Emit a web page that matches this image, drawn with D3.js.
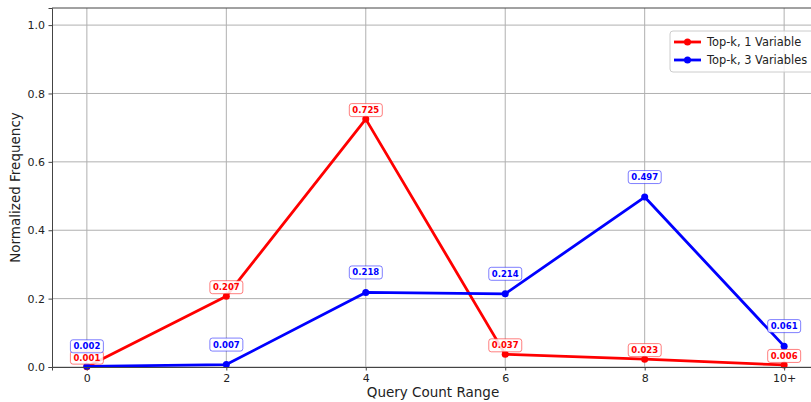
<!DOCTYPE html>
<html><head><meta charset="utf-8">
<script src="https://cdn.jsdelivr.net/npm/d3@7"></script>
<style>body{margin:0;background:#fff}svg{display:block;font-family:"DejaVu Sans",sans-serif}</style>
</head><body><div id="c"></div>
<script>
const categories = ["0","2","4","6","8","10+"];
const series1 = [0.001,0.207,0.725,0.037,0.023,0.006];
const series3 = [0.002,0.007,0.218,0.214,0.497,0.061];
const seriesNames = ["Top-k, 1 Variable","Top-k, 3 Variables"];
const yTicks = [0,0.2,0.4,0.6,0.8,1.0];

const W=811,H=402;
const m={l:52};
const pw=767; // extends past the window as in the reference crop
const svg=d3.select("#c").append("svg").attr("width",W).attr("height",H);
const x=d3.scaleLinear().domain([-0.25,5.25]).range([m.l,m.l+pw]);
const y=d3.scaleLinear().domain([0,1.05]).range([367,8]);
const g=svg.append("g");
// grid
g.selectAll(".gx").data(categories).enter().append("line")
 .attr("x1",(d,i)=>x(i)).attr("x2",(d,i)=>x(i)).attr("y1",y(1.05)).attr("y2",y(0))
 .attr("stroke","#b0b0b0").attr("stroke-width",1);
g.selectAll(".gy").data(yTicks).enter().append("line")
 .attr("x1",x(-0.25)).attr("x2",x(5.25)).attr("y1",d=>y(d)).attr("y2",d=>y(d))
 .attr("stroke","#b0b0b0").attr("stroke-width",1);
// axes
const xa=d3.axisBottom(x).tickValues(d3.range(categories.length)).tickFormat(i=>categories[i]).tickSize(3.5).tickPadding(3.5);
const ya=d3.axisLeft(y).tickValues(yTicks).tickFormat(d3.format(".1f")).tickSize(3.5).tickPadding(3.5);
const gx=svg.append("g").attr("transform",`translate(0,${y(0)})`).call(xa);
const gy=svg.append("g").attr("transform",`translate(${m.l},0)`).call(ya);
[gx,gy].forEach(a=>{a.selectAll("text").attr("font-size",11).attr("fill","#222").attr("font-family","DejaVu Sans");a.selectAll("line").attr("stroke","#444");a.select(".domain").attr("stroke","#444");});
svg.append("line").attr("x1",x(-0.25)).attr("x2",x(5.25)).attr("y1",y(1.05)).attr("y2",y(1.05)).attr("stroke","#444");
svg.append("text").attr("x",433).attr("y",397).attr("text-anchor","middle").attr("font-size",13.5).attr("fill","#222").text("Query Count Range");
svg.append("text").attr("transform",`translate(20,${(y(0)+y(1.05))/2}) rotate(-90)`).attr("text-anchor","middle").attr("font-size",13.5).attr("fill","#222").text("Normalized Frequency");

const data=[{v:series1,c:"#ff0000",off:9,name:seriesNames[0]},{v:series3,c:"#0000ff",off:20,name:seriesNames[1]}];
const line=d3.line().x((d,i)=>x(i)).y(d=>y(d));
data.forEach(s=>{
 g.append("path").datum(s.v).attr("d",line).attr("fill","none").attr("stroke",s.c).attr("stroke-width",2.8).attr("stroke-linejoin","round");
 g.selectAll(null).data(s.v).enter().append("circle").attr("cx",(d,i)=>x(i)).attr("cy",d=>y(d)).attr("r",3.5).attr("fill",s.c);
});
data.forEach(s=>{
 s.v.forEach((d,i)=>{
  const lg=g.append("g").attr("transform",`translate(${x(i)},${y(d)-s.off})`);
  const t=lg.append("text").attr("text-anchor","middle").attr("dy","0.35em").attr("font-size",8.5).attr("font-weight","bold").attr("fill",s.c).text(d3.format(".3f")(d));
  const bb=t.node().getBBox();
  lg.insert("rect","text").attr("x",bb.x-3).attr("y",bb.y-1.5).attr("width",bb.width+6).attr("height",bb.height+3).attr("rx",2.5)
   .attr("fill","#fff").attr("fill-opacity",0.85).attr("stroke",s.c).attr("stroke-opacity",0.5).attr("stroke-width",1);
 });
});
// legend
const lgd=svg.append("g").attr("transform","translate(670,31)");
lgd.append("rect").attr("width",145).attr("height",41).attr("rx",3).attr("fill","#fff").attr("fill-opacity",0.8).attr("stroke","#ccc");
data.forEach((s,i)=>{
 const yy=11+i*18;
 lgd.append("line").attr("x1",4).attr("x2",31).attr("y1",yy).attr("y2",yy).attr("stroke",s.c).attr("stroke-width",2.8);
 lgd.append("circle").attr("cx",17.5).attr("cy",yy).attr("r",3.5).attr("fill",s.c);
 lgd.append("text").attr("x",37).attr("y",yy).attr("dy","0.35em").attr("font-size",11.4).attr("fill","#222").text(s.name);
});
</script></body></html>
